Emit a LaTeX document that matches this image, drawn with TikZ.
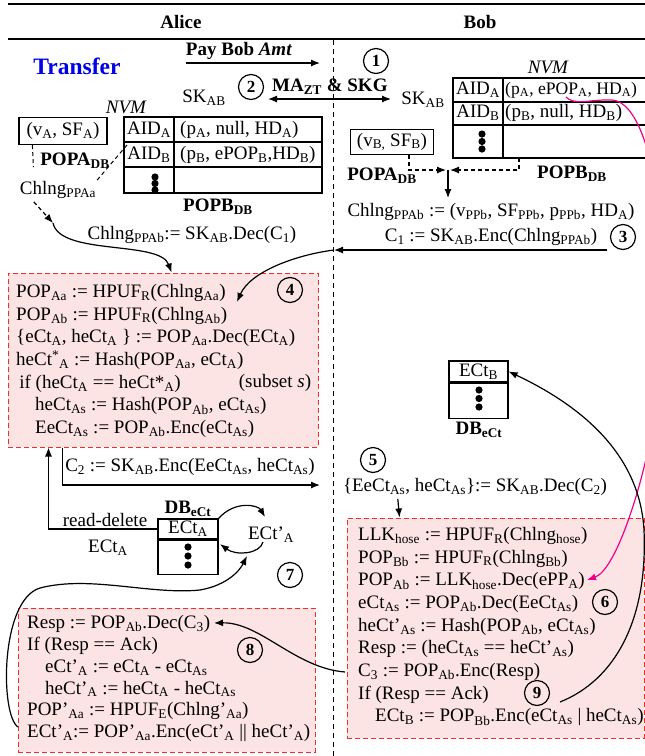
\documentclass[tikz,border=0pt]{standalone}
\usepackage{fontspec}
\setmainfont{Liberation Serif}
\usetikzlibrary{arrows.meta,positioning,calc}
\definecolor{boxred}{RGB}{240,45,45}
\definecolor{boxpink}{RGB}{253,228,228}
\definecolor{xferblue}{RGB}{0,0,235}
\newcommand{\lo}[1]{\textsubscript{#1}}
\newcommand{\hi}[1]{\textsuperscript{#1}}

\begin{document}
\begin{tikzpicture}[x=1pt, y=-1pt,
    font=\fontsize{19}{22.7}\selectfont,
    inner sep=0pt,
    bold/.style={font=\fontsize{19}{22}\selectfont\bfseries},
    num/.style={draw, circle, line width=1.2pt, minimum size=25pt,
                font=\fontsize{17}{17}\selectfont\bfseries},
    calcbox/.style={draw=boxred, dash pattern=on 5pt off 3pt, fill=boxpink, line width=1pt},
    steps/.style={align=left, anchor=north west},
    cell/.style={draw, line width=1.2pt},
    arr/.style={-{Latex[length=9pt,width=7pt]}, line width=1.2pt},
    darr/.style={arr, dash pattern=on 4pt off 3pt},
    lane/.style={dash pattern=on 5pt off 4pt, line width=1pt},
    ddash/.style={dash pattern=on 4pt off 3pt, line width=1pt}
  ]
  \useasboundingbox (0,0) rectangle (645,756);
  \clip (0,0) rectangle (645,756);

  % header
  \draw[line width=2.4pt] (8,4) -- (645,4);
  \draw[line width=2.4pt] (8,39) -- (645,39);
  \node[bold] (alice) at (181,22) {Alice};
  \node[bold] (bob) at (480,22) {Bob};
  \draw[lane] (333,40) -- (333,756);
  \node[font=\fontsize{23.5}{24}\selectfont\bfseries, text=xferblue] (transfer) at (77,66) {Transfer};

  % steps 1 and 2
  \node[bold] (pay) at (239,51) {Pay Bob \textit{Amt}};
  \coordinate (payL) at (186,63);
  \coordinate (payR) at (320,63);
  \draw[arr] (payL) -- (payR);
  \node[num] (n1) at (376,61) {1};
  \node[num] (n2) at (251,87) {2};
  \node[bold, anchor=west] (mazt) at (272,87) {MA\lo{ZT} \& SKG};
  \coordinate (skgL) at (268,99);
  \coordinate (skgR) at (391,99);
  \draw[arr, {Latex[length=9pt,width=7pt]}-{Latex[length=9pt,width=7pt]}] (skgL) -- (skgR);
  \node (skA) at (204,98) {SK\lo{AB}};
  \node (skB) at (423,100) {SK\lo{AB}};

  % Alice NVM
  \node[font=\fontsize{19}{19}\selectfont\itshape] (nvmA) at (126,107) {NVM};
  \draw[cell] (124,117) rectangle (322,193);
  \draw[cell] (124,142) -- (322,142) (124,167) -- (322,167) (174,117) -- (174,193);
  \node (aidAA) at (149,130) {AID\lo{A}};
  \node[anchor=west] (valAA) at (180,130) {(p\lo{A}, null, HD\lo{A})};
  \node (aidAB) at (149,155) {AID\lo{B}};
  \node[anchor=west] (valAB) at (180,155) {(p\lo{B}, ePOP\lo{B},HD\lo{B})};
  \fill (155,177) circle (3.6pt) (155,183.5) circle (3.6pt) (155,190) circle (3.6pt);
  \node[bold] (popbA) at (218,207) {POPB\lo{DB}};
  \node[draw, line width=1.2pt, minimum width=88pt, minimum height=27pt] (vA) at (63,131) {(v\lo{A}, SF\lo{A})};
  \node[bold] (popaA) at (75,161) {POPA\lo{DB}};
  \node (chlA) at (58,190) {Chlng\lo{PPAa}};
  \coordinate (aidBtip) at (127,145);
  \coordinate (chlEnd) at (53,223);
  \draw[ddash] ($(vA.south west)+(14,0)$) -- ++(1,22);
  \draw[ddash] (aidBtip) -- (chlA.north east);
  \draw[darr] ($(chlA.south west)+(14,3)$) -- (chlEnd);
  \node (decC1) at (192,235) {Chlng\lo{PPAb}:= SK\lo{AB}.Dec(C\lo{1})};

  % Bob NVM
  \node[font=\fontsize{19}{19}\selectfont\itshape] (nvmB) at (548,67) {NVM};
  \draw[cell] (453,78) rectangle (700,158);
  \draw[cell] (453,102) -- (700,102) (453,125) -- (700,125) (503,78) -- (503,158);
  \node (aidBA) at (478,90) {AID\lo{A}};
  \node[anchor=west, font=\fontsize{17.6}{19}\selectfont] (valBA) at (505,90) {(p\lo{A}, ePOP\lo{A}, HD\lo{A})};
  \node (aidBB) at (478,113) {AID\lo{B}};
  \node[anchor=west] (valBB) at (505,113) {(p\lo{B}, null, HD\lo{B})};
  \fill (482,134) circle (3.6pt) (482,141.5) circle (3.6pt) (482,149) circle (3.6pt);
  \node[bold] (popbB) at (572,174) {POPB\lo{DB}};
  \node[draw, line width=1.2pt, minimum width=83pt, minimum height=25pt] (vB) at (392,142) {(v\lo{B,} SF\lo{B})};
  \node[bold] (popaB) at (382,176) {POPA\lo{DB}};
  \coordinate (tblBbot) at (519,158);
  \coordinate (meetL) at (446,170);
  \coordinate (meetR) at (450,170);
  \coordinate (meet) at (448,170);
  \draw[darr] ($(vB.south)+(17,0)$) |- (meetL);
  \draw[darr] (tblBbot) |- (meetR);
  \draw[arr] (meet) -- ++(0,28);
  \node (chlB) at (491,212) {Chlng\lo{PPAb} := (v\lo{PPb}, SF\lo{PPb}, p\lo{PPb}, HD\lo{A})};
  \node (encC1) at (491,237) {C\lo{1} := SK\lo{AB}.Enc(Chlng\lo{PPAb})};
  \node[num] (n3) at (623,237) {3};
  \coordinate (c1R) at (607,250);
  \coordinate (c1L) at (334,250);
  \draw[arr] (c1R) -- (c1L);

  % step 4
  \node[calcbox, minimum width=310pt, minimum height=174pt] (box4) at (163,360) {};
  \draw[arr] (chlEnd) .. controls (60,256) and (160,240) .. ($(box4.north west)+(164,0)$);
  \draw[arr] (c1L) .. controls (295,255) and (250,272) .. (237,302);
  \node[num] (n4) at (290,290) {4};
  \node[steps] (box4txt) at (16,284) {POP\lo{Aa} := HPUF\lo{R}(Chlng\lo{Aa})\\
    POP\lo{Ab} := HPUF\lo{R}(Chlng\lo{Ab})\\
    \{eCt\lo{A}, heCt\lo{A} \} := POP\lo{Aa}.Dec(ECt\lo{A})\\
    heCt\hi{*}\lo{A} := Hash(POP\lo{Aa}, eCt\lo{A})\\
    \,if (heCt\lo{A} == heCt*\lo{A})\\
    \hspace*{19pt}heCt\lo{As} := Hash(POP\lo{Ab}, eCt\lo{As})\\
    \hspace*{19pt}EeCt\lo{As} := POP\lo{Ab}.Enc(eCt\lo{As})};
  \node (subset) at (275,383) {(subset \textit{s})};

  % step 5
  \node (encC2) at (190,467) {C\lo{2} := SK\lo{AB}.Enc(EeCt\lo{As}, heCt\lo{As})};
  \coordinate (c2end) at (320,485);
  \draw[arr] ($(box4.south west)+(55,0)$) |- (c2end);
  \node[num] (n5) at (373,460) {5};
  \node (decC2) at (475,487) {\{EeCt\lo{As}, heCt\lo{As}\}:= SK\lo{AB}.Dec(C\lo{2})};

  % Alice DB
  \node[cell, minimum width=60pt, minimum height=20pt] (dbAtop) at (188,529) {ECt\lo{A}};
  \node[cell, minimum width=60pt, minimum height=34pt, anchor=north] (dbAbot) at (dbAtop.south) {};
  \fill (188,547) circle (3.6pt) (188,556) circle (3.6pt) (188,565) circle (3.6pt);
  \node[bold] (dbAlbl) at (188,509) {DB\lo{eCt}};
  \node (rd) at (105,520) {read-delete};
  \node (rdA) at (108,548) {ECt\lo{A}};
  \draw[arr] (dbAtop.west) -| ($(box4.south west)+(41,0)$);
  \node (ectpA) at (271,535) {ECt’\lo{A}};
  \draw[arr] (dbAtop.north east) .. controls (235,500) and (258,505) .. (265,517);
  \draw[arr] (263,542) .. controls (260,554) and (236,556) .. (220,544);
  \node[num] (n7) at (290,575) {7};

  % Bob DB
  \node[cell, minimum width=59pt, minimum height=21pt] (dbBtop) at (478.5,371.5) {ECt\lo{B}};
  \node[cell, minimum width=59pt, minimum height=35pt, anchor=north] (dbBbot) at (dbBtop.south) {};
  \fill (479,390) circle (3.6pt) (479,398.5) circle (3.6pt) (479,407) circle (3.6pt);
  \node[bold] (dbBlbl) at (479,430) {DB\lo{eCt}};

  % step 6
  \node[calcbox, minimum width=297pt, minimum height=220pt] (box6) at (495.5,628) {};
  \draw[arr] ($(decC2.south west)+(55,3)$) -- ($(box6.north west)+(53,0)$);
  \node[steps] (box6txt) at (358,527) {LLK\lo{hose} := HPUF\lo{R}(Chlng\lo{hose})\\
    POP\lo{Bb} := HPUF\lo{R}(Chlng\lo{Bb})\\
    POP\lo{Ab} := LLK\lo{hose}.Dec(ePP\lo{A})\\
    eCt\lo{As} := POP\lo{Ab}.Dec(EeCt\lo{As})\\
    heCt’\lo{As} := Hash(POP\lo{Ab}, eCt\lo{As})\\
    Resp := (heCt\lo{As} == heCt’\lo{As})\\
    C\lo{3} := POP\lo{Ab}.Enc(Resp)\\
    If (Resp == Ack)\\
    \hspace*{17pt}ECt\lo{B} := POP\lo{Bb}.Enc(eCt\lo{As} | heCt\lo{As})};
  \node[num] (n6) at (605,602) {6};
  \node[num] (n9) at (537,693) {9};
  \draw[arr, magenta] (566,97) .. controls (574,106) and (592,99) .. (612,100)
    .. controls (660,103) and (680,300) .. (648,450)
    .. controls (638,497) and (615,570) .. (587,580);
  \draw[arr] (560,702) .. controls (615,680) and (648,620) .. (644,530)
    .. controls (640,460) and (590,410) .. (dbBtop.east);

  % step 8
  \node[calcbox, minimum width=297pt, minimum height=144pt] (box8) at (166.5,680) {};
  \node[steps, font=\fontsize{19}{21.9}\selectfont] (box8txt) at (27,615) {Resp := POP\lo{Ab}.Dec(C\lo{3})\\
    If (Resp == Ack)\\
    \hspace*{18pt}eCt’\lo{A} := eCt\lo{A} - eCt\lo{As}\\
    \hspace*{18pt}heCt’\lo{A} := heCt\lo{A} - heCt\lo{As}\\
    POP’\lo{Aa} := HPUF\lo{E}(Chlng’\lo{Aa})\\
    ECt’\lo{A}:= POP’\lo{Aa}.Enc(eCt’\lo{A} || heCt’\lo{A})};
  \node[num] (n8) at (250,650) {8};
  \coordinate (c3out) at (345,672);
  \draw[arr] (c3out) .. controls (295,668) and (260,622) .. (214,623);
  \draw[arr] (18,727) .. controls (0,715) and (0,600) .. (40,588)
    .. controls (90,575) and (150,595) .. (200,590)
    .. controls (228,585) and (240,570) .. (247,556);
\end{tikzpicture}
\end{document}
